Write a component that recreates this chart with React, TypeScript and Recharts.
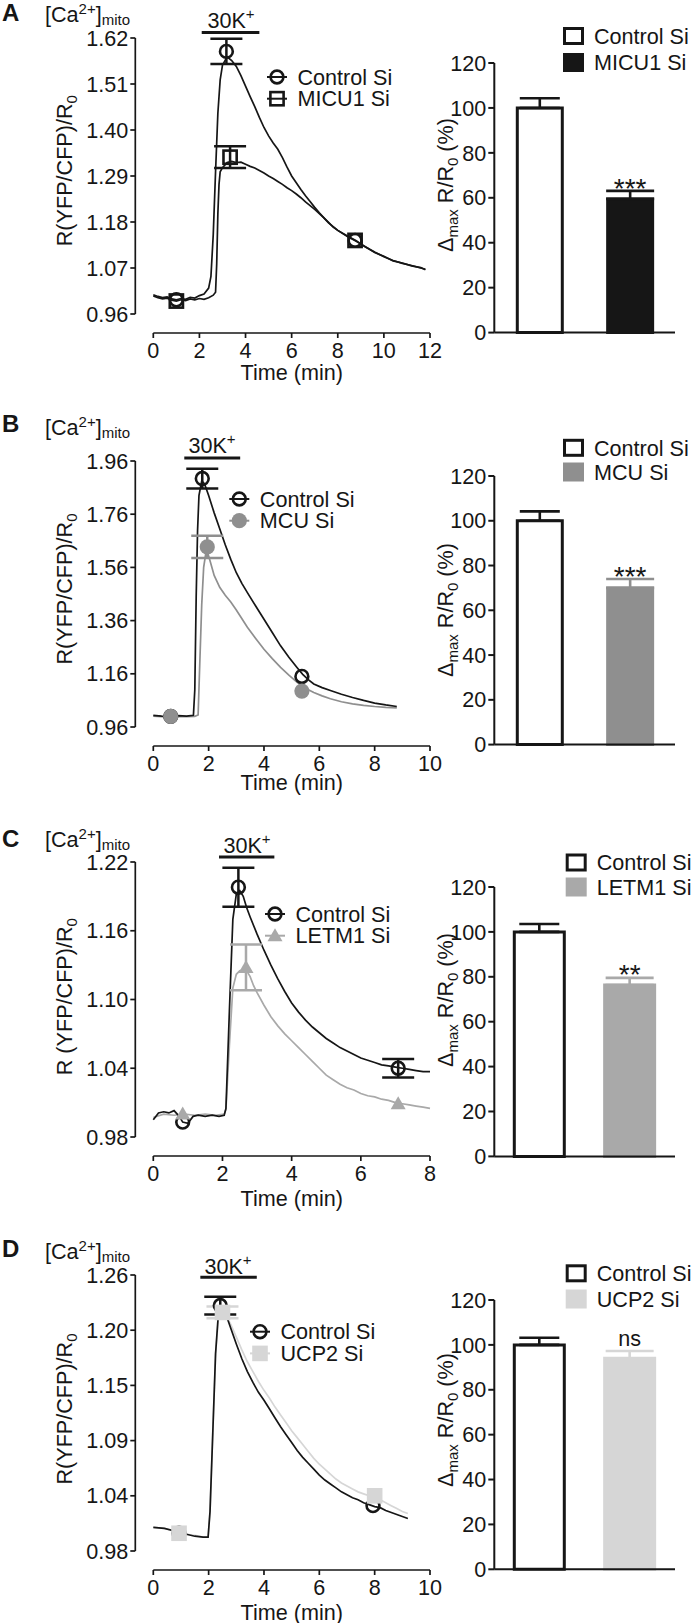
import React from "react";
import {
  ComposedChart,
  Line,
  Scatter,
  ErrorBar,
  XAxis,
  YAxis,
  ReferenceLine,
  BarChart,
  Bar,
  LabelList,
} from "recharts";

const FONT = "'Liberation Sans', Arial, Helvetica, sans-serif";
const INK = "#161616";
const FS = 21.6;
const SM = 15;

// ---------- traces: [time (min), R(YFP/CFP)/R0] ----------
const aControl = [
  [0, 1.006], [0.2, 1.002], [0.4, 0.999], [0.6, 1.001], [0.8, 0.996], [1.0, 0.994],
  [1.2, 0.997], [1.4, 0.995], [1.6, 1.0], [1.8, 0.998], [2.0, 1.004], [2.2, 1.008],
  [2.4, 1.022], [2.5, 1.05], [2.6, 1.15], [2.7, 1.3], [2.8, 1.44], [2.9, 1.52],
  [3.0, 1.555], [3.2, 1.575], [3.4, 1.566], [3.6, 1.552], [3.8, 1.53], [4.0, 1.505],
  [4.2, 1.48], [4.4, 1.456], [4.6, 1.43], [4.8, 1.406], [5.0, 1.386], [5.2, 1.369],
  [5.4, 1.354], [5.6, 1.334], [5.8, 1.311], [6.0, 1.29], [6.2, 1.274], [6.4, 1.258],
  [6.6, 1.243], [6.8, 1.229], [7.0, 1.215], [7.2, 1.202], [7.4, 1.19], [7.6, 1.178],
  [7.8, 1.169], [8.0, 1.16], [8.4, 1.147], [8.8, 1.135], [9.2, 1.12], [9.6, 1.108],
  [10.0, 1.097], [10.4, 1.088], [10.8, 1.081], [11.2, 1.076], [11.6, 1.07], [11.8, 1.067],
];
const aMicu = [
  [0, 1.003], [0.2, 0.999], [0.4, 0.996], [0.6, 0.998], [0.8, 0.993], [1.0, 0.991],
  [1.2, 0.994], [1.4, 0.992], [1.6, 0.996], [1.8, 0.994], [2.0, 0.997], [2.2, 0.995],
  [2.4, 0.999], [2.6, 1.005], [2.7, 1.012], [2.75, 1.08], [2.8, 1.2], [2.85, 1.27],
  [2.9, 1.3], [3.0, 1.31], [3.2, 1.322], [3.4, 1.325], [3.6, 1.322], [3.8, 1.323],
  [4.0, 1.318], [4.2, 1.313], [4.4, 1.309], [4.6, 1.303], [4.8, 1.297], [5.0, 1.29],
  [5.2, 1.284], [5.4, 1.277], [5.6, 1.27], [5.8, 1.262], [6.0, 1.255], [6.2, 1.247],
  [6.4, 1.238], [6.6, 1.228], [6.8, 1.219], [7.0, 1.21], [7.2, 1.2], [7.4, 1.19],
  [7.6, 1.179], [7.8, 1.168], [8.0, 1.16], [8.4, 1.146], [8.8, 1.134], [9.2, 1.121],
  [9.6, 1.107], [10.0, 1.098], [10.4, 1.087], [10.8, 1.082], [11.2, 1.075], [11.6, 1.071],
  [11.8, 1.066],
];
const bControl = [
  [0, 1.004], [0.3, 1.001], [0.6, 1.0], [0.9, 1.003], [1.2, 1.001], [1.45, 1.004],
  [1.5, 1.1], [1.55, 1.45], [1.6, 1.7], [1.65, 1.83], [1.75, 1.885], [1.85, 1.875],
  [2.0, 1.83], [2.2, 1.765], [2.4, 1.705], [2.6, 1.645], [2.8, 1.59], [3.0, 1.54],
  [3.2, 1.5], [3.4, 1.465], [3.7, 1.415], [4.0, 1.365], [4.3, 1.315], [4.6, 1.265],
  [4.9, 1.222], [5.2, 1.183], [5.4, 1.158], [5.6, 1.138], [5.8, 1.122], [6.1, 1.108],
  [6.4, 1.097], [6.8, 1.083], [7.2, 1.071], [7.6, 1.06], [8.0, 1.05], [8.4, 1.043],
  [8.8, 1.037],
];
const bMcu = [
  [0, 1.001], [0.3, 0.999], [0.6, 0.998], [0.9, 1.0], [1.2, 0.999], [1.5, 1.0],
  [1.62, 1.005], [1.68, 1.2], [1.75, 1.42], [1.82, 1.56], [1.9, 1.615], [1.95, 1.62],
  [2.05, 1.585], [2.2, 1.53], [2.4, 1.485], [2.6, 1.455], [2.8, 1.43], [3.0, 1.4],
  [3.4, 1.335], [3.7, 1.293], [4.0, 1.252], [4.3, 1.217], [4.6, 1.184], [4.9, 1.155],
  [5.2, 1.128], [5.5, 1.106], [5.8, 1.09], [6.1, 1.077], [6.4, 1.066], [6.8, 1.055],
  [7.2, 1.047], [7.6, 1.041], [8.0, 1.037], [8.4, 1.034], [8.8, 1.032],
];
const cControl = [
  [0, 0.995], [0.15, 1.001], [0.3, 1.002], [0.45, 1.001], [0.6, 1.003], [0.75, 0.998],
  [0.85, 0.993], [1.0, 0.992], [1.15, 0.998], [1.3, 0.999], [1.5, 0.998], [1.7, 0.999],
  [1.9, 0.998], [2.05, 0.999], [2.1, 1.005], [2.2, 1.09], [2.3, 1.17], [2.4, 1.192],
  [2.5, 1.195], [2.6, 1.19], [2.7, 1.18], [2.8, 1.172], [3.0, 1.157], [3.2, 1.143],
  [3.4, 1.13], [3.6, 1.118], [3.8, 1.107], [4.0, 1.097], [4.2, 1.089], [4.4, 1.082],
  [4.6, 1.076], [4.8, 1.071], [5.0, 1.066], [5.2, 1.062], [5.4, 1.058], [5.6, 1.055],
  [5.8, 1.052], [6.0, 1.049], [6.2, 1.047], [6.4, 1.045], [6.6, 1.043], [6.8, 1.042],
  [7.0, 1.041], [7.2, 1.04], [7.4, 1.039], [7.6, 1.038], [7.8, 1.037], [8.0, 1.037],
];
const cLetm = [
  [0, 0.997], [0.3, 1.0], [0.6, 0.999], [0.9, 1.0], [1.2, 0.999], [1.5, 1.0],
  [1.8, 0.999], [2.05, 1.0], [2.1, 1.004], [2.2, 1.06], [2.3, 1.11], [2.4, 1.122],
  [2.5, 1.125], [2.6, 1.126], [2.7, 1.125], [2.8, 1.12], [2.9, 1.112], [3.0, 1.106],
  [3.2, 1.095], [3.4, 1.085], [3.6, 1.077], [3.8, 1.07], [4.0, 1.064], [4.2, 1.058],
  [4.4, 1.052], [4.6, 1.046], [4.8, 1.04], [5.0, 1.034], [5.2, 1.03], [5.4, 1.026],
  [5.6, 1.023], [5.8, 1.021], [6.0, 1.018], [6.2, 1.016], [6.4, 1.015], [6.6, 1.013],
  [6.8, 1.012], [7.0, 1.01], [7.2, 1.009], [7.4, 1.008], [7.6, 1.007], [7.8, 1.006],
  [8.0, 1.005],
];
const dControl = [
  [0, 1.004], [0.4, 1.003], [0.8, 1.0], [1.0, 0.998], [1.2, 0.997], [1.5, 0.995],
  [1.8, 0.994], [1.98, 0.994], [2.05, 1.02], [2.15, 1.1], [2.25, 1.18], [2.35, 1.22],
  [2.45, 1.226], [2.6, 1.222], [2.8, 1.206], [3.0, 1.19], [3.2, 1.175], [3.4, 1.162],
  [3.6, 1.151], [3.8, 1.141], [4.0, 1.133], [4.2, 1.124], [4.4, 1.115], [4.6, 1.106],
  [4.8, 1.098], [5.0, 1.09], [5.2, 1.082], [5.4, 1.075], [5.6, 1.069], [5.8, 1.063],
  [6.0, 1.057], [6.2, 1.052], [6.4, 1.048], [6.6, 1.044], [6.8, 1.04], [7.0, 1.037],
  [7.2, 1.034], [7.4, 1.032], [7.6, 1.029], [7.8, 1.027], [8.0, 1.025], [8.2, 1.024],
  [8.4, 1.021], [8.6, 1.019], [8.8, 1.017], [9.0, 1.015], [9.2, 1.013],
];
const dUcp = [
  [0, 1.004], [0.4, 1.003], [0.8, 1.0], [1.0, 0.998], [1.2, 0.997], [1.5, 0.996],
  [1.8, 0.994], [1.98, 0.994], [2.05, 1.02], [2.15, 1.1], [2.25, 1.18], [2.35, 1.215],
  [2.45, 1.222], [2.6, 1.22], [2.8, 1.21], [3.0, 1.197], [3.2, 1.184], [3.4, 1.172],
  [3.6, 1.162], [3.8, 1.152], [4.0, 1.143], [4.2, 1.135], [4.4, 1.126], [4.6, 1.118],
  [4.8, 1.11], [5.0, 1.102], [5.2, 1.095], [5.4, 1.088], [5.6, 1.081], [5.8, 1.074],
  [6.0, 1.068], [6.2, 1.063], [6.4, 1.058], [6.6, 1.053], [6.8, 1.049], [7.0, 1.046],
  [7.2, 1.043], [7.4, 1.04], [7.6, 1.038], [7.8, 1.036], [8.0, 1.034], [8.2, 1.032],
  [8.4, 1.029], [8.6, 1.026], [8.8, 1.023], [9.0, 1.02], [9.2, 1.018],
];

// ---------- symbols on the traces (t, value, SEM) ----------
type Mark = { t: number; v: number; e?: number };
const aControlMarks: Mark[] = [{ t: 1.0, v: 0.994 }, { t: 3.17, v: 1.588, e: 0.03 }, { t: 8.75, v: 1.136 }];
const aMicuMarks: Mark[] = [{ t: 1.0, v: 0.991 }, { t: 3.33, v: 1.335, e: 0.026 }, { t: 8.75, v: 1.136 }];
const bControlMarks: Mark[] = [{ t: 0.63, v: 1.0 }, { t: 1.77, v: 1.894, e: 0.037 }, { t: 5.37, v: 1.15 }];
const bMcuMarks: Mark[] = [{ t: 0.63, v: 1.0 }, { t: 1.95, v: 1.637, e: 0.042 }, { t: 5.37, v: 1.095 }];
const cControlMarks: Mark[] = [{ t: 0.85, v: 0.993 }, { t: 2.46, v: 1.198, e: 0.017 }, { t: 7.08, v: 1.04, e: 0.008 }];
const cLetmMarks: Mark[] = [{ t: 0.85, v: 1.0 }, { t: 2.68, v: 1.128, e: 0.02 }, { t: 7.08, v: 1.009 }];
const dControlMarks: Mark[] = [{ t: 0.93, v: 0.998 }, { t: 2.42, v: 1.229, e: 0.009 }, { t: 7.94, v: 1.026 }];
const dUcpMarks: Mark[] = [{ t: 0.93, v: 0.998 }, { t: 2.5, v: 1.222, e: 0.006 }, { t: 8.0, v: 1.036 }];

// 30K+ application: [start, end, level]
const aStim = [2.1, 4.6, 1.633];
const bStim = [1.12, 3.14, 1.971];
const cStim = [1.9, 3.5, 1.2244];
const dStim = [1.7, 3.74, 1.2577];

// ---------- axis ticks ----------
const aXTicks = [0, 2, 4, 6, 8, 10, 12];
const bXTicks = [0, 2, 4, 6, 8, 10];
const cXTicks = [0, 2, 4, 6, 8];
const dXTicks = [0, 2, 4, 6, 8, 10];
const aYTicks = [0.96, 1.07, 1.18, 1.29, 1.4, 1.51, 1.62];
const bYTicks = [0.96, 1.16, 1.36, 1.56, 1.76, 1.96];
const cYTicks = [0.98, 1.04, 1.1, 1.16, 1.22];
const dYTicks = [0.98, 1.036, 1.092, 1.148, 1.204, 1.26];
const pctTicks = [0, 20, 40, 60, 80, 100, 120];

// ---------- bar summaries: Δmax R/R0 (%) ----------
const aBarNames = ["Control Si", "MICU1 Si"];
const bBarNames = ["Control Si", "MCU Si"];
const cBarNames = ["Control Si", "LETM1 Si"];
const dBarNames = ["Control Si", "UCP2 Si"];
const aBarMeans = [100, 59.5];
const bBarMeans = [100, 70];
const cBarMeans = [100, 76.3];
const dBarMeans = [100, 94];
const aBarErrs = [4.3, 3.6];
const bBarErrs = [4.2, 4];
const cBarErrs = [3.5, 3.2];
const dBarErrs = [3.2, 3.3];

const GREY_B = "#8f8f8f";
const GREY_C = "#a9a9a9";
const GREY_D = "#d6d6d6";

// Prism-style detached axes
const Y_SHIFT = 18;
const X_SHIFT = 19;

const toPts = (a: number[][]) => a.map(([t, v]) => ({ t, v }));

function marker(kind: string, cx: number, cy: number, color: string) {
  switch (kind) {
    case "openCircle":
      return <circle cx={cx} cy={cy} r={6.4} fill="none" stroke={color} strokeWidth={2.6} />;
    case "openSquare":
      return <rect x={cx - 6.6} y={cy - 6.6} width={13.2} height={13.2} fill="none" stroke={color} strokeWidth={2.6} />;
    case "dot":
      return <circle cx={cx} cy={cy} r={7.6} fill={color} />;
    case "tri":
      return <path d={`M${cx},${cy - 7.5}L${cx + 7.5},${cy + 5.5}L${cx - 7.5},${cy + 5.5}Z`} fill={color} />;
    default:
      return <rect x={cx - 7.8} y={cy - 7.8} width={15.6} height={15.6} fill={color} />;
  }
}

const tickText = { fill: INK, fontSize: FS, fontFamily: FONT };

const yTick = (props: any) => {
  const ax = Number(props.x) - Y_SHIFT;
  const y = Number(props.y);
  return (
    <g>
      <line x1={ax - 5} x2={ax} y1={y} y2={y} stroke={INK} strokeWidth={1.7} />
      <text x={ax - 7} y={y} dy="0.355em" textAnchor="end" fontSize={FS} fontFamily={FONT} fill={INK}>
        {Number(props.payload.value).toFixed(2)}
      </text>
    </g>
  );
};

const xTick = (props: any) => {
  const x = Number(props.x);
  const ay = Number(props.y) + X_SHIFT;
  return (
    <g>
      <line x1={x} x2={x} y1={ay} y2={ay + 5} stroke={INK} strokeWidth={1.7} />
      <text x={x} y={ay + 10} dy="0.71em" textAnchor="middle" fontSize={FS} fontFamily={FONT} fill={INK}>
        {props.payload.value}
      </text>
    </g>
  );
};

function TracePanel(p: {
  plotTop: number;
  plotBottom: number;
  xTicks: number[];
  yTicks: number[];
  ctrl: number[][];
  si: number[][];
  siColor: string;
  ctrlMarks: Mark[];
  siMarks: Mark[];
  siKind: string;
  ctrlKind: string;
  stim: number[];
}) {
  const mt = 30;
  const xh = 62;
  const h = p.plotBottom - p.plotTop + mt + xh;
  const yMin = p.yTicks[0];
  const yMax = p.yTicks[p.yTicks.length - 1];
  const siInk = p.siKind === "openSquare" ? INK : p.siColor;
  return (
    <div style={{ position: "absolute", left: 0, top: p.plotTop - mt }}>
      <ComposedChart width={470} height={h} margin={{ top: mt, right: 40, bottom: 0, left: 0 }}>
        <XAxis
          type="number"
          dataKey="t"
          domain={[0, p.xTicks[p.xTicks.length - 1]]}
          ticks={p.xTicks}
          interval={0}
          height={xh}
          tickSize={0}
          tickMargin={0}
          tickLine={false}
          axisLine={{ stroke: INK, strokeWidth: 1.7, transform: `translate(0 ${X_SHIFT})` }}
          tick={xTick}
        />
        <YAxis
          type="number"
          domain={[yMin, yMax]}
          ticks={p.yTicks}
          interval={0}
          width={153.3}
          tickSize={0}
          tickMargin={0}
          tickLine={false}
          axisLine={{ stroke: INK, strokeWidth: 1.7, transform: `translate(${-Y_SHIFT} 0)` }}
          tick={yTick}
        />
        <ReferenceLine
          segment={[
            { x: p.stim[0], y: p.stim[2] },
            { x: p.stim[1], y: p.stim[2] },
          ]}
          stroke={INK}
          strokeWidth={3}
          ifOverflow="visible"
        />
        <Line data={toPts(p.si)} dataKey="v" stroke={p.siColor} strokeWidth={1.7} dot={false} isAnimationActive={false} />
        <Line data={toPts(p.ctrl)} dataKey="v" stroke={INK} strokeWidth={1.7} dot={false} isAnimationActive={false} />
        <Scatter
          data={p.ctrlMarks}
          dataKey="v"
          isAnimationActive={false}
          shape={(s: any) => marker(p.ctrlKind, s.cx, s.cy, INK)}
        >
          <ErrorBar dataKey="e" direction="y" width={16} stroke={INK} strokeWidth={2.5} />
        </Scatter>
        <Scatter
          data={p.siMarks}
          dataKey="v"
          isAnimationActive={false}
          shape={(s: any) => marker(p.siKind, s.cx, s.cy, siInk)}
        >
          <ErrorBar dataKey="e" direction="y" width={16} stroke={siInk} strokeWidth={2.5} />
        </Scatter>
      </ComposedChart>
    </div>
  );
}

function BarPanel(p: {
  plotTop: number;
  plotBottom: number;
  names: string[];
  means: number[];
  errs: number[];
  sig: string;
  color: string;
  barSize: number;
}) {
  const mt = 12;
  const xh = 24;
  const h = p.plotBottom - p.plotTop + mt + xh;
  const data = [
    { name: p.names[0], ctrl: p.means[0], ctrlErr: [0, p.errs[0]] },
    { name: p.names[1], si: p.means[1], siErr: [0, p.errs[1]], sig: p.sig },
  ];
  const sigLabel = (props: any) => {
    const { value, index } = props;
    if (!value) return null;
    const x = Number(props.x);
    const y = Number(props.y);
    const w = Number(props.width);
    const hh = Number(props.height);
    const capY = y - (p.errs[index] * hh) / p.means[index];
    const mid = capY - 11;
    const star = String(value).includes("*");
    return (
      <text
        x={x + w / 2}
        y={mid + (star ? 16 : 5.8)}
        textAnchor="middle"
        fontSize={star ? 28 : FS}
        fontFamily={FONT}
        fill={INK}
      >
        {value}
      </text>
    );
  };
  const barAxis = { stroke: INK, strokeWidth: 2 };
  return (
    <div style={{ position: "absolute", left: 400, top: p.plotTop - mt }}>
      <BarChart width={293} height={h} data={data} margin={{ top: mt, right: 18, bottom: 0, left: 0 }}>
        <XAxis dataKey="name" tick={false} tickLine={false} height={xh} axisLine={barAxis} />
        <YAxis
          type="number"
          domain={[0, 120]}
          ticks={pctTicks}
          interval={0}
          width={94.3}
          tickSize={6}
          tickMargin={2}
          axisLine={barAxis}
          tickLine={barAxis}
          tick={tickText}
        />
        <Bar dataKey="ctrl" stackId="s" fill="#ffffff" stroke={INK} strokeWidth={3} barSize={p.barSize} isAnimationActive={false}>
          <ErrorBar dataKey="ctrlErr" direction="y" width={20} stroke={INK} strokeWidth={2.6} />
        </Bar>
        <Bar dataKey="si" stackId="s" fill={p.color} stroke={p.color} strokeWidth={3} barSize={p.barSize} isAnimationActive={false}>
          <ErrorBar dataKey="siErr" direction="y" width={24} stroke={p.color} strokeWidth={2.6} />
          <LabelList dataKey="sig" content={sigLabel} />
        </Bar>
      </BarChart>
    </div>
  );
}

function LineLegend({ x, y, items }: { x: number; y: number; items: { kind: string; color: string; label: string }[] }) {
  return (
    <g>
      {items.map((it, i) => {
        const cy = y + i * 21.7;
        return (
          <g key={it.label}>
            <line x1={x - 10} x2={x + 10} y1={cy} y2={cy} stroke={it.color} strokeWidth={2} />
            {marker(it.kind, x, cy, it.color)}
            <text x={x + 20.5} y={cy + 7.7} fontSize={FS} fontFamily={FONT} fill={INK}>
              {it.label}
            </text>
          </g>
        );
      })}
    </g>
  );
}

function BarLegend({ x, ys, names, color }: { x: number; ys: number[]; names: string[]; color: string }) {
  return (
    <g>
      <rect x={x + 1.5} y={ys[0] - 7.5} width={18} height={15} fill="#fff" stroke={INK} strokeWidth={3} />
      <rect x={x} y={ys[1] - 9.5} width={21} height={19} fill={color} />
      {names.map((n, i) => (
        <text key={n} x={x + 31} y={ys[i] + 7.7} fontSize={FS} fontFamily={FONT} fill={INK}>
          {n}
        </text>
      ))}
    </g>
  );
}

function Labels() {
  const t = { fontSize: FS, fontFamily: FONT, fill: INK } as const;
  const letters = [
    ["A", 21],
    ["B", 432],
    ["C", 847],
    ["D", 1257],
  ];
  const caBase = [22, 435.2, 847, 1259.2];
  const yTitle = [170.7, 589, 996.7, 1409];
  const barTitle = [185, 610, 1000, 1420];
  const timeBase = [380, 790, 1206, 1619.5];
  const kText = [
    [231, 28.3],
    [212, 453.3],
    [247, 852.7],
    [228, 1274],
  ];
  return (
    <svg
      width={693}
      height={1623}
      style={{ position: "absolute", left: 0, top: 0, pointerEvents: "none" }}
    >
      {letters.map(([l, y]) => (
        <text key={l as string} x={2} y={y as number} fontSize={24} fontWeight="bold" fontFamily={FONT} fill={INK}>
          {l}
        </text>
      ))}
      {caBase.map((y) => (
        <text key={y} x={45} y={y} {...t}>
          [Ca<tspan dy={-8} fontSize={SM}>2+</tspan>
          <tspan dy={8}>]</tspan>
          <tspan dy={2.5} fontSize={SM}>mito</tspan>
        </text>
      ))}
      {yTitle.map((y, i) => (
        <text key={y} transform={`translate(72,${y}) rotate(-90)`} textAnchor="middle" {...t}>
          {i === 2 ? "R (YFP/CFP)/R" : "R(YFP/CFP)/R"}
          <tspan dy={5} fontSize={SM}>0</tspan>
        </text>
      ))}
      {barTitle.map((y) => (
        <text key={y} transform={`translate(453,${y}) rotate(-90)`} textAnchor="middle" {...t}>
          Δ<tspan dy={5} fontSize={SM}>max</tspan>
          <tspan dy={-5}> R/R</tspan>
          <tspan dy={5} fontSize={SM}>0</tspan>
          <tspan dy={-5}> (%)</tspan>
        </text>
      ))}
      {timeBase.map((y) => (
        <text key={y} x={291.7} y={y} textAnchor="middle" {...t}>
          Time (min)
        </text>
      ))}
      {kText.map(([x, y]) => (
        <text key={y} x={x} y={y} textAnchor="middle" {...t}>
          30K<tspan dy={-9} fontSize={SM}>+</tspan>
        </text>
      ))}

      <LineLegend
        x={277}
        y={77}
        items={[
          { kind: "openCircle", color: INK, label: "Control Si" },
          { kind: "openSquare", color: INK, label: "MICU1 Si" },
        ]}
      />
      <LineLegend
        x={239.3}
        y={499}
        items={[
          { kind: "openCircle", color: INK, label: "Control Si" },
          { kind: "dot", color: GREY_B, label: "MCU Si" },
        ]}
      />
      <LineLegend
        x={275}
        y={914}
        items={[
          { kind: "openCircle", color: INK, label: "Control Si" },
          { kind: "tri", color: GREY_C, label: "LETM1 Si" },
        ]}
      />
      <LineLegend
        x={260}
        y={1331.7}
        items={[
          { kind: "openCircle", color: INK, label: "Control Si" },
          { kind: "block", color: GREY_D, label: "UCP2 Si" },
        ]}
      />

      <BarLegend x={563} ys={[36, 62.5]} names={aBarNames} color={INK} />
      <BarLegend x={563} ys={[447.8, 472]} names={bBarNames} color={GREY_B} />
      <BarLegend x={565.7} ys={[862.5, 887]} names={cBarNames} color={GREY_C} />
      <BarLegend x={565.7} ys={[1273.3, 1299]} names={dBarNames} color={GREY_D} />
    </svg>
  );
}

export default function App() {
  return (
    <div style={{ position: "absolute", left: 0, top: 0, width: 693, height: 1623, background: "#fff", fontFamily: FONT }}>
      <TracePanel
        plotTop={38.3}
        plotBottom={314.3}
        xTicks={aXTicks}
        yTicks={aYTicks}
        ctrl={aControl}
        si={aMicu}
        siColor={INK}
        ctrlMarks={aControlMarks}
        siMarks={aMicuMarks}
        ctrlKind="openCircle"
        siKind="openSquare"
        stim={aStim}
      />
      <BarPanel plotTop={62.7} plotBottom={332.3} names={aBarNames} means={aBarMeans} errs={aBarErrs} sig="***" color={INK} barSize={45} />

      <TracePanel
        plotTop={460.7}
        plotBottom={726.7}
        xTicks={bXTicks}
        yTicks={bYTicks}
        ctrl={bControl}
        si={bMcu}
        siColor={GREY_B}
        ctrlMarks={bControlMarks}
        siMarks={bMcuMarks}
        ctrlKind="openCircle"
        siKind="dot"
        stim={bStim}
      />
      <BarPanel plotTop={475.7} plotBottom={744.3} names={bBarNames} means={bBarMeans} errs={bBarErrs} sig="***" color={GREY_B} barSize={45} />

      <TracePanel
        plotTop={861.7}
        plotBottom={1136.7}
        xTicks={cXTicks}
        yTicks={cYTicks}
        ctrl={cControl}
        si={cLetm}
        siColor={GREY_C}
        ctrlMarks={cControlMarks}
        siMarks={cLetmMarks}
        ctrlKind="openCircle"
        siKind="tri"
        stim={cStim}
      />
      <BarPanel plotTop={887.3} plotBottom={1156.7} names={cBarNames} means={cBarMeans} errs={cBarErrs} sig="**" color={GREY_C} barSize={50} />

      <TracePanel
        plotTop={1275}
        plotBottom={1551}
        xTicks={dXTicks}
        yTicks={dYTicks}
        ctrl={dControl}
        si={dUcp}
        siColor={GREY_D}
        ctrlMarks={dControlMarks}
        siMarks={dUcpMarks}
        ctrlKind="openCircle"
        siKind="block"
        stim={dStim}
      />
      <BarPanel plotTop={1300} plotBottom={1569.3} names={dBarNames} means={dBarMeans} errs={dBarErrs} sig="ns" color={GREY_D} barSize={50} />

      <Labels />
    </div>
  );
}
